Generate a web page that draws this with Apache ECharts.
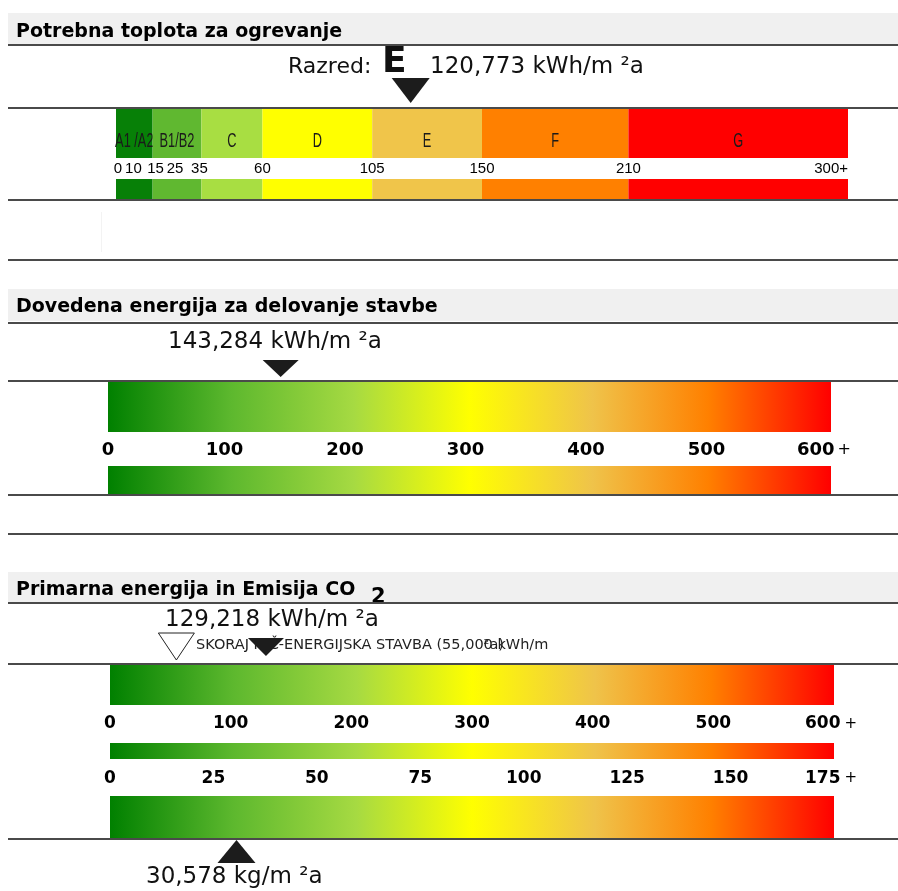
<!DOCTYPE html>
<html>
<head>
<meta charset="utf-8">
<script src="https://cdn.jsdelivr.net/npm/echarts@6/dist/echarts.min.js"></script>
<style>
  html, body { margin: 0; padding: 0; background: #fff; }
  #c { width: 898px; height: 891px; }
</style>
</head>
<body>
<div id="c"></div>
<script>
// Energy class scale for heating demand (kWh/m2a)
const classNames = ['A1 /A2', 'B1/B2', 'C', 'D', 'E', 'F', 'G'];
const classBounds = [0, 15, 35, 60, 105, 150, 210, 300];
const classTicks = [0, 10, 15, 25, 35, 60, 105, 150, 210, 300];

// Building results
const heatingClass = 'E';
const heatingDemand = 120.773;   // kWh/m2a
const deliveredEnergy = 143.284; // kWh/m2a
const primaryEnergy = 129.218;   // kWh/m2a
const nzebLimit = 55.0;          // kWh/m2a
const co2Emission = 30.578;      // kg/m2a

// Continuous scales
const energyScaleMax = 600;
const energyTickStep = 100;
const co2ScaleMax = 175;
const co2TickStep = 25;

// Titles
const titles = ['Potrebna toplota za ogrevanje', 'Dovedena energija za delovanje stavbe', 'Primarna energija in Emisija CO'];
const nzebText = 'SKORAJ NIČ-ENERGIJSKA STAVBA (55,000 kWh/m';

// ---- styling ----
const classColors = ['#078007', '#60b830', '#a8de42', '#ffff00', '#f0c54a', '#ff8000', '#ff0000'];
const gradStops = [
  { offset: 0.00, color: '#008000' },
  { offset: 0.17, color: '#5db82e' },
  { offset: 0.34, color: '#a6da42' },
  { offset: 0.50, color: '#ffff00' },
  { offset: 0.67, color: '#efc34a' },
  { offset: 0.83, color: '#ff8000' },
  { offset: 1.00, color: '#ff0000' }
];
const gradient = () => new echarts.graphic.LinearGradient(0, 0, 1, 0, gradStops);
const fmt = v => v.toFixed(3).replace('.', ',');
const MARK = '#1c1c1c';

const chart = echarts.init(document.getElementById('c'), null, { renderer: 'canvas', width: 898, height: 891 });

const classSegments = classNames.map((n, i) => [classBounds[i], classBounds[i + 1]]);

// grids: class bar (top/bottom), delivered bar (top/bottom), primary bar, middle bar, CO2 bar
const grids = [
  { left: 116, top: 108, width: 732, height: 50 },
  { left: 116, top: 179, width: 732, height: 21 },
  { left: 108, top: 381, width: 723, height: 51 },
  { left: 108, top: 466, width: 723, height: 29 },
  { left: 110, top: 664, width: 724, height: 41 },
  { left: 110, top: 743, width: 724, height: 16 },
  { left: 110, top: 796, width: 724, height: 43 }
].map(g => Object.assign({ containLabel: false, outerBoundsMode: 'none', show: false }, g));

const yAxes = grids.map((g, i) => ({ type: 'value', gridIndex: i, min: 0, max: 1, show: false }));

const bare = { axisLine: { show: false }, axisTick: { show: false }, splitLine: { show: false } };

const boldFont = size => ({ fontFamily: 'DejaVu Sans', fontWeight: 'bold', fontSize: size, color: '#000' });
const plusFont = size => ({ fontFamily: 'DejaVu Sans', fontWeight: 'normal', fontSize: size, color: '#000' });
const tickFont = { fontFamily: 'Liberation Sans', fontSize: 15, color: '#000' };

const xAxes = [
  { type: 'value', gridIndex: 0, min: 0, max: 300, show: false },
  Object.assign({
    type: 'value', gridIndex: 1, min: 0, max: 300, position: 'top',
    axisLabel: Object.assign({
      customValues: classTicks, margin: 10.5, verticalAlign: 'middle',
      showMinLabel: true, showMaxLabel: true, alignMaxLabel: 'right',
      formatter: v => {
        if (v === 300) return '300+';
        if (v === 0) return '{z|0}';
        if (v === 10) return '{l|10}';
        if (v === 15) return '{r|15}';
        if (v === 25 || v === 35) return '{m|' + v + '}';
        return String(v);
      },
      rich: {
        z: Object.assign({ padding: [0, 0, 0, 4] }, tickFont),
        l: Object.assign({ padding: [0, 14, 0, 0] }, tickFont),
        r: Object.assign({ padding: [0, 0, 0, 6] }, tickFont),
        m: Object.assign({ padding: [0, 4, 0, 0] }, tickFont)
      }
    }, tickFont)
  }, bare),
  { type: 'value', gridIndex: 2, min: 0, max: energyScaleMax, show: false },
  Object.assign({
    type: 'value', gridIndex: 3, min: 0, max: energyScaleMax, interval: energyTickStep, position: 'top',
    axisLabel: Object.assign({
      margin: 16, verticalAlign: 'middle', showMinLabel: true, showMaxLabel: true,
      formatter: v => v === energyScaleMax ? '{n|' + v + '}{p|+}' : (v === 0 ? String(v) : '{s|' + v + '}'),
      rich: {
        n: boldFont(18),
        s: Object.assign(boldFont(18), { padding: [0, 8, 0, 0] }),
        p: Object.assign(plusFont(16), { padding: [0, 14, 0, 3] })
      }
    }, boldFont(18))
  }, bare),
  { type: 'value', gridIndex: 4, min: 0, max: energyScaleMax, show: false },
  Object.assign({
    type: 'value', gridIndex: 5, min: 0, max: energyScaleMax, interval: energyTickStep, position: 'top',
    axisLabel: Object.assign({
      margin: 19, verticalAlign: 'middle', showMinLabel: true, showMaxLabel: true,
      formatter: v => v === energyScaleMax ? '{n|' + v + '}{p|+}' : String(v),
      rich: { n: boldFont(17), p: Object.assign(plusFont(15), { padding: [0, 6, 0, 4] }) }
    }, boldFont(17))
  }, bare),
  Object.assign({
    type: 'value', gridIndex: 5, min: 0, max: co2ScaleMax, interval: co2TickStep, position: 'bottom',
    axisLabel: Object.assign({
      margin: 19.5, verticalAlign: 'middle', showMinLabel: true, showMaxLabel: true,
      formatter: v => v === co2ScaleMax ? '{n|' + v + '}{p|+}' : String(v),
      rich: { n: boldFont(17), p: Object.assign(plusFont(15), { padding: [0, 6, 0, 4] }) }
    }, boldFont(17))
  }, bare),
  { type: 'value', gridIndex: 6, min: 0, max: co2ScaleMax, show: false }
];

// filled range [from, to] across the full grid height
function rangeRenderer(fillFor, withText) {
  return function (params, api) {
    const a = api.coord([api.value(0), 1]);
    const b = api.coord([api.value(1), 0]);
    const children = [{
      type: 'rect',
      shape: { x: a[0], y: a[1], width: b[0] - a[0], height: b[1] - a[1] },
      style: { fill: fillFor(params.dataIndex) }
    }];
    if (withText) {
      children.push({
        type: 'text', x: (a[0] + b[0]) / 2, y: (a[1] + b[1]) / 2 + 8, scaleX: 0.64,
        style: { text: classNames[params.dataIndex], fill: '#1a1a1a', font: '20px "Liberation Sans"', align: 'center', verticalAlign: 'middle' }
      });
    }
    return { type: 'group', children };
  };
}

// triangle pointer relative to the grid edge at the value
function pointer(kind) {
  return function (params, api) {
    const v = api.value(0);
    if (kind === 'up') {
      const p = api.coord([v, 0]);
      return { type: 'polygon', shape: { points: [[p[0], p[1] + 1], [p[0] - 19, p[1] + 24], [p[0] + 19, p[1] + 24]] }, style: { fill: MARK } };
    }
    const p = api.coord([v, 1]);
    if (kind === 'big') {
      return { type: 'polygon', shape: { points: [[p[0] - 19, p[1] - 30], [p[0] + 19, p[1] - 30], [p[0], p[1] - 5]] }, style: { fill: MARK } };
    }
    if (kind === 'hollow') {
      return { type: 'polygon', shape: { points: [[p[0] - 18, p[1] - 31], [p[0] + 18, p[1] - 31], [p[0], p[1] - 4]] }, style: { fill: 'rgba(0,0,0,0)', stroke: '#222', lineWidth: 1 } };
    }
    const top = kind === 'mid' ? 21 : 26;
    const tip = kind === 'mid' ? 4 : 8;
    return { type: 'polygon', shape: { points: [[p[0] - 18, p[1] - top], [p[0] + 18, p[1] - top], [p[0], p[1] - tip]] }, style: { fill: MARK } };
  };
}

const custom = (xi, yi, data, renderItem, z) => ({
  type: 'custom', xAxisIndex: xi, yAxisIndex: yi, data, renderItem, clip: false, z: z || 2, silent: true
});

const series = [
  custom(0, 0, classSegments, rangeRenderer(i => classColors[i], true)),
  custom(1, 1, classSegments, rangeRenderer(i => classColors[i], false)),
  custom(2, 2, [[0, energyScaleMax]], rangeRenderer(gradient, false)),
  custom(3, 3, [[0, energyScaleMax]], rangeRenderer(gradient, false)),
  custom(4, 4, [[0, energyScaleMax]], rangeRenderer(gradient, false)),
  custom(5, 5, [[0, energyScaleMax]], rangeRenderer(gradient, false)),
  custom(7, 6, [[0, co2ScaleMax]], rangeRenderer(gradient, false)),
  custom(0, 0, [[heatingDemand]], pointer('big'), 10),
  custom(2, 2, [[deliveredEnergy]], pointer('mid'), 10),
  custom(4, 4, [[nzebLimit]], pointer('hollow'), 10),
  custom(4, 4, [[primaryEnergy]], pointer('small'), 10),
  custom(7, 6, [[co2Emission]], pointer('up'), 10)
];

// ---- decoration: header bands, rules, texts ----
const graphics = [];
[13, 289, 572].forEach(y => graphics.push({ type: 'rect', z: 0, shape: { x: 8, y, width: 890, height: y === 572 ? 31 : 32 }, style: { fill: '#f0f0f0' } }));
[44, 107, 199, 259, 322, 380, 494, 533, 602, 663, 838].forEach(y =>
  graphics.push({ type: 'rect', z: 100, shape: { x: 8, y, width: 890, height: 2 }, style: { fill: '#4a4a4a' } }));
graphics.push({ type: 'rect', z: 0, shape: { x: 101, y: 212, width: 1, height: 40 }, style: { fill: '#f3f3f3' } });

const titleFont = 'bold 19px "DejaVu Sans"';
[[titles[0], 32], [titles[1], 307.5], [titles[2], 590]].forEach(([t, y]) =>
  graphics.push({ type: 'text', z: 1, x: 16, y, style: { text: t, font: titleFont, fill: '#000', verticalAlign: 'middle' } }));
graphics.push({ type: 'text', z: 1, x: 371, y: 598, style: { text: '2', font: 'bold 21px "DejaVu Sans"', fill: '#000', verticalAlign: 'middle' } });

const valFont = '23px "DejaVu Sans"';
graphics.push({ type: 'text', z: 1, x: 288, y: 67, style: { text: 'Razred:', font: '22px "DejaVu Sans"', fill: '#111', verticalAlign: 'middle' } });
graphics.push({ type: 'text', z: 1, x: 382, y: 62.5, style: { text: heatingClass, font: 'bold 36px "DejaVu Sans"', fill: '#111', verticalAlign: 'middle' } });
graphics.push({ type: 'text', z: 1, x: 430, y: 67, style: { text: fmt(heatingDemand) + ' kWh/m ²a', font: valFont, fill: '#111', verticalAlign: 'middle' } });
graphics.push({ type: 'text', z: 1, x: 168, y: 342.5, style: { text: fmt(deliveredEnergy) + ' kWh/m ²a', font: valFont, fill: '#111', verticalAlign: 'middle' } });
graphics.push({ type: 'text', z: 1, x: 165, y: 620.5, style: { text: fmt(primaryEnergy) + ' kWh/m ²a', font: valFont, fill: '#111', verticalAlign: 'middle' } });
graphics.push({ type: 'text', z: 1, x: 146, y: 877, style: { text: fmt(co2Emission) + ' kg/m ²a', font: valFont, fill: '#111', verticalAlign: 'middle' } });

const nzebFont = '14.5px "DejaVu Sans"';
graphics.push({ type: 'text', z: 1, x: 196, y: 645, style: { text: nzebText, font: nzebFont, fill: '#222', verticalAlign: 'middle' } });
// unit suffix printed over the number
const ctx = document.createElement('canvas').getContext('2d');
ctx.font = nzebFont;
const suffixX = 196 + ctx.measureText(nzebText.slice(0, nzebText.indexOf('0 kWh'))).width;
graphics.push({ type: 'text', z: 1, x: suffixX, y: 645, style: { text: '²a)', font: nzebFont, fill: '#222', verticalAlign: 'middle' } });

chart.setOption({
  backgroundColor: '#ffffff',
  animation: false,
  grid: grids,
  xAxis: xAxes,
  yAxis: yAxes,
  series,
  graphic: { elements: graphics }
});
</script>
</body>
</html>
